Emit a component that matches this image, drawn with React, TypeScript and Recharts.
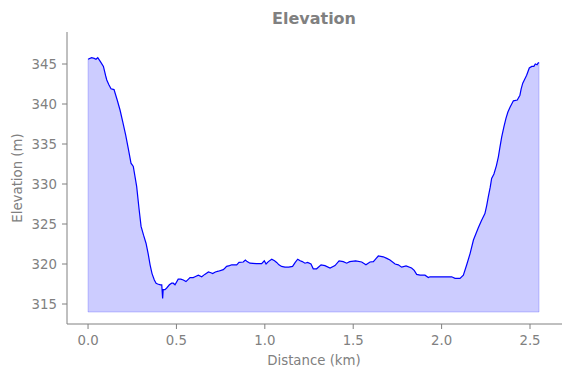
import React from 'react';
import { ComposedChart, Area, Line, XAxis, YAxis, ReferenceLine } from 'recharts';

const distanceKm: number[] = [
  0.0, 0.02, 0.035, 0.045, 0.055, 0.07, 0.087, 0.1, 0.106, 0.118, 0.13, 0.147, 0.165, 0.181, 0.197, 0.213,
  0.228, 0.243, 0.256, 0.275, 0.288, 0.3, 0.314, 0.328, 0.34, 0.351, 0.362, 0.375, 0.385, 0.394, 0.41, 0.417,
  0.422, 0.425, 0.435, 0.445, 0.46, 0.473, 0.482, 0.492, 0.51, 0.525, 0.539, 0.554, 0.577, 0.595, 0.605, 0.624,
  0.643, 0.66, 0.681, 0.695, 0.705, 0.72, 0.737, 0.765, 0.775, 0.784, 0.8, 0.813, 0.841, 0.854, 0.878, 0.89,
  0.9, 0.916, 0.95, 0.982, 0.997, 1.007, 1.02, 1.039, 1.055, 1.067, 1.08, 1.095, 1.114, 1.135, 1.157, 1.172,
  1.186, 1.2, 1.212, 1.227, 1.242, 1.261, 1.274, 1.293, 1.318, 1.34, 1.369, 1.397, 1.42, 1.444, 1.463, 1.48,
  1.514, 1.548, 1.572, 1.595, 1.614, 1.63, 1.642, 1.67, 1.69, 1.708, 1.737, 1.755, 1.774, 1.799, 1.83, 1.845,
  1.859, 1.878, 1.906, 1.925, 1.934, 2.0, 2.057, 2.076, 2.104, 2.123, 2.142, 2.161, 2.18, 2.207, 2.225, 2.245,
  2.255, 2.264, 2.275, 2.283, 2.296, 2.31, 2.321, 2.33, 2.34, 2.352, 2.364, 2.375, 2.387, 2.406, 2.428, 2.443,
  2.45, 2.459, 2.47, 2.481, 2.496, 2.51, 2.522, 2.53, 2.54, 2.545, 2.551,
];

const elevationM: number[] = [
  345.6, 345.8, 345.7, 345.6, 345.8, 345.3, 344.7, 343.5, 343.0, 342.4, 341.9, 341.8, 340.5, 339.25, 337.7, 336.1,
  334.4, 332.6, 332.2, 329.7, 327.0, 324.7, 323.6, 322.6, 321.3, 319.9, 318.8, 318.0, 317.6, 317.5, 317.4, 317.4,
  315.7, 316.8, 316.8, 317.0, 317.4, 317.6, 317.6, 317.4, 318.1, 318.1, 318.0, 317.8, 318.3, 318.3, 318.4, 318.6,
  318.4, 318.7, 319.0, 318.9, 318.8, 319.0, 319.1, 319.3, 319.5, 319.7, 319.8, 319.9, 319.9, 320.2, 320.25, 320.5,
  320.3, 320.1, 320.05, 320.05, 320.4, 320.0, 320.3, 320.6, 320.4, 320.2, 319.9, 319.7, 319.6, 319.6, 319.7, 320.2,
  320.6, 320.4, 320.3, 320.1, 320.2, 320.0, 319.4, 319.4, 319.9, 319.8, 319.5, 319.8, 320.4, 320.3, 320.1, 320.3,
  320.4, 320.25, 319.9, 320.25, 320.3, 320.7, 321.0, 320.9, 320.7, 320.5, 320.0, 319.9, 319.6, 319.75, 319.5, 319.2,
  318.7, 318.6, 318.6, 318.3, 318.4, 318.4, 318.4, 318.2, 318.2, 318.6, 319.9, 321.3, 323.0, 324.5, 325.4, 326.3,
  327.3, 328.4, 329.6, 330.7, 331.25, 332.3, 333.4, 334.6, 335.9, 337.1, 338.2, 339.0, 339.6, 340.4, 340.5, 341.1,
  341.9, 342.6, 343.1, 343.6, 344.5, 344.7, 344.7, 345.0, 344.9, 345.1, 345.2,
];

const fillBase = 314;
const xTicks: number[] = [0, 0.5, 1.0, 1.5, 2.0, 2.5];
const yTicks: number[] = [315, 320, 325, 330, 335, 340, 345];

const data = distanceKm.map((d, i) => ({ dist: d, elev: elevationM[i] }));
const firstX = distanceKm[0];
const lastX = distanceKm[distanceKm.length - 1];

const GRAY = '#808080';
const FONT = '"DejaVu Sans", sans-serif';

export default function App() {
  return (
    <div style={{ position: 'absolute', left: 0, top: 0, width: 571, height: 378, background: '#fff', fontFamily: FONT }}>
      <ComposedChart
        width={571}
        height={378}
        data={data}
        margin={{ top: 32, right: 9, bottom: 24, left: 7 }}
      >
        <XAxis
          dataKey="dist"
          type="number"
          domain={[-0.119, 2.681]}
          ticks={xTicks}
          tickFormatter={(v: number) => v.toFixed(1)}
          allowDataOverflow
          height={30}
          stroke={GRAY}
          tick={{ fill: GRAY, fontSize: 13.3, fontFamily: FONT }}
          tickLine={{ stroke: GRAY }}
          axisLine={{ stroke: GRAY }}
          tickSize={5}
          tickMargin={7}
        />
        <YAxis
          type="number"
          domain={[312.5, 349]}
          ticks={yTicks}
          allowDataOverflow
          width={60}
          stroke={GRAY}
          tick={{ fill: GRAY, fontSize: 13.3, fontFamily: FONT }}
          tickLine={{ stroke: GRAY }}
          axisLine={{ stroke: GRAY }}
          tickSize={5}
          tickMargin={5}
        />
        <Area
          dataKey="elev"
          type="linear"
          baseValue={fillBase}
          fill="#0000ff"
          fillOpacity={0.2}
          stroke="none"
          isAnimationActive={false}
        />
        <ReferenceLine segment={[{ x: firstX, y: fillBase }, { x: lastX, y: fillBase }]} stroke="#0000ff" strokeOpacity={0.2} />
        <ReferenceLine segment={[{ x: firstX, y: fillBase }, { x: firstX, y: elevationM[0] }]} stroke="#0000ff" strokeOpacity={0.2} />
        <ReferenceLine segment={[{ x: lastX, y: fillBase }, { x: lastX, y: elevationM[elevationM.length - 1] }]} stroke="#0000ff" strokeOpacity={0.2} />
        <Line
          dataKey="elev"
          type="linear"
          stroke="#0000ff"
          strokeWidth={1.2}
          dot={false}
          activeDot={false}
          isAnimationActive={false}
        />
      </ComposedChart>
      <div style={{ position: 'absolute', left: 314, top: 18, transform: 'translate(-50%, -50%)', color: GRAY, fontWeight: 'bold', fontSize: 16, whiteSpace: 'nowrap' }}>
        Elevation
      </div>
      <div style={{ position: 'absolute', left: 314, top: 360, transform: 'translate(-50%, -50%)', color: GRAY, fontSize: 13.3, whiteSpace: 'nowrap' }}>
        Distance (km)
      </div>
      <div style={{ position: 'absolute', left: 17, top: 178, transform: 'translate(-50%, -50%) rotate(-90deg)', color: GRAY, fontSize: 13.3, whiteSpace: 'nowrap' }}>
        Elevation (m)
      </div>
    </div>
  );
}
